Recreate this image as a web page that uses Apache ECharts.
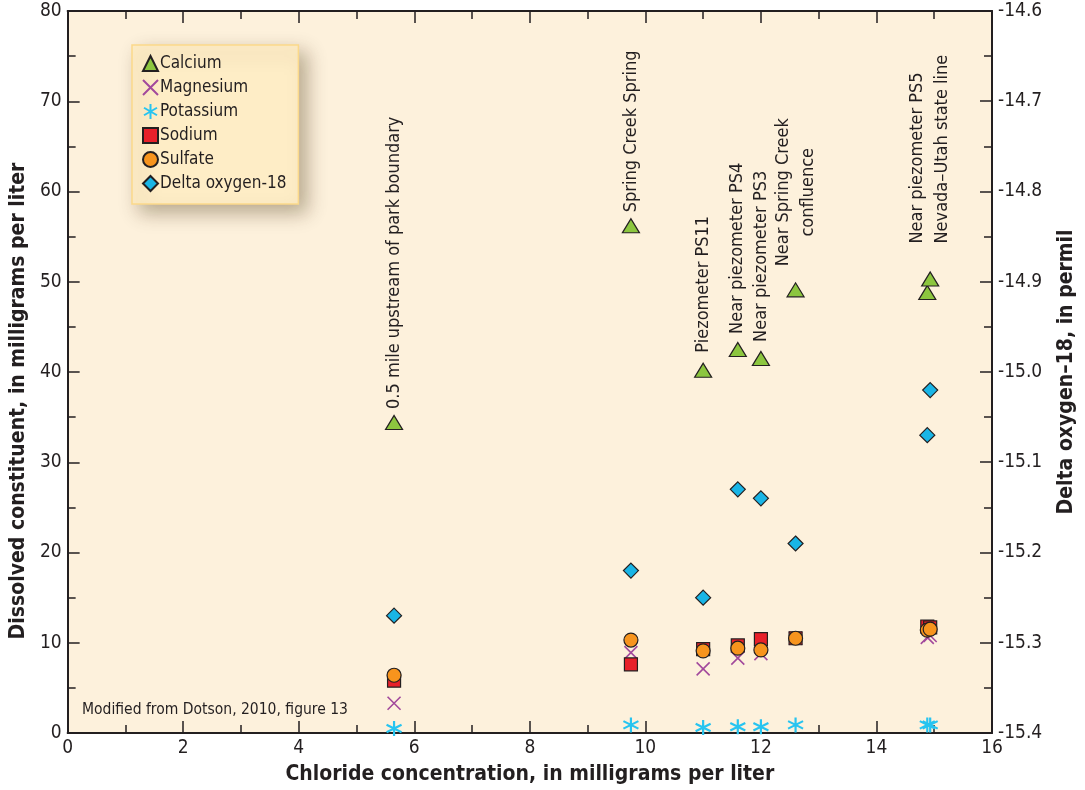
<!DOCTYPE html>
<html>
<head>
<meta charset="utf-8">
<script src="https://cdn.jsdelivr.net/npm/echarts@6/dist/echarts.min.js"></script>
<style>
  html, body { margin: 0; padding: 0; background: #fff; }
  #chart { width: 1085px; height: 790px; }
</style>
</head>
<body>
<div id="chart"></div>
<script>
// chloride concentration (mg/L) for each sampling site
const chloride = [5.65, 9.75, 11.0, 11.6, 12.0, 12.6, 14.88, 14.93];
const siteNames = [
  '0.5 mile upstream of park boundary',
  'Spring Creek Spring',
  'Piezometer PS11',
  'Near piezometer PS4',
  'Near piezometer PS3',
  'Near Spring Creek\nconfluence',
  '',
  'Near piezometer PS5\nNevada–Utah state line'
];
const calcium   = [34.4, 56.2, 40.2, 42.5, 41.5, 49.1, 48.8, 50.3];
const magnesium = [3.3, 8.9, 7.1, 8.3, 8.8, 10.5, 10.6, 10.8];
const potassium = [0.5, 0.9, 0.6, 0.7, 0.7, 0.9, 0.9, 0.9];
const sodium    = [5.8, 7.6, 9.3, 9.7, 10.4, 10.5, 11.8, 11.7];
const sulfate   = [6.4, 10.3, 9.1, 9.4, 9.2, 10.5, 11.4, 11.5];
const deltaO18  = [-15.27, -15.22, -15.25, -15.13, -15.14, -15.19, -15.07, -15.02];

const xTicks = { min: 0, max: 16, step: 2 };
const leftTicks = { min: 0, max: 80, step: 10 };
const rightTicks = { min: -15.4, max: -14.6, step: 0.1 };

const FONT = "'Liberation Sans Narrow', 'DejaVu Sans Condensed', sans-serif";
const INK = '#231F20';

const chart = echarts.init(document.getElementById('chart'));

const pairs = arr => arr.map((v, i) => [chloride[i], v]);

// label gaps above the calcium triangles (px)
const labelGap = [6, 6, 10, 8, 9, 16, 0, 28];

const calciumData = calcium.map((v, i) => {
  const item = { value: [chloride[i], v] };
  if (siteNames[i]) {
    item.label = {
      show: true,
      distance: labelGap[i],
      formatter: i === 5 ? '{a|Near Spring Creek}\n{b|confluence}' : siteNames[i]
    };
  }
  return item;
});

const crossPath = 'path://M0,0L10,10M10,0L0,10';
const starPath = 'path://M5,0L5,10M0.67,2.5L9.33,7.5M0.67,7.5L9.33,2.5';

const axisLine = { show: true, onZero: false, lineStyle: { color: INK, width: 2 } };
const tick = (len) => ({ show: true, inside: true, length: len, lineStyle: { color: INK, width: 1.5 } });
const minor = (len) => ({ show: true, splitNumber: 2, length: len, lineStyle: { color: INK, width: 1.5 } });
const tickLabel = { color: INK, fontFamily: FONT, fontSize: 19 };
const titleStyle = { color: INK, fontFamily: FONT, fontSize: 21, fontWeight: 'bold' };

const option = {
  animation: false,
  textStyle: { fontFamily: FONT },
  grid: {
    left: 67, right: 88, top: 11, bottom: 56,
    show: true, backgroundColor: '#FDF1DC', borderWidth: 0
  },
  legend: {
    orient: 'vertical',
    left: 132, top: 45,
    padding: [10, 12, 12, 10],
    itemGap: 7,
    itemWidth: 15, itemHeight: 15,
    backgroundColor: '#FEEDC6',
    borderColor: '#FBD98A',
    borderWidth: 1.5,
    shadowColor: 'rgba(60,40,0,0.35)',
    shadowBlur: 18,
    shadowOffsetX: 8,
    shadowOffsetY: 8,
    textStyle: { color: INK, fontFamily: FONT, fontSize: 17, padding: [0, 0, 0, -3] },
    data: ['Calcium', 'Magnesium', 'Potassium', 'Sodium', 'Sulfate', 'Delta oxygen-18']
  },
  graphic: [{
    type: 'text', left: 82, top: 702,
    style: { text: 'Modified from Dotson, 2010, figure 13', fill: INK, font: '15.5px ' + FONT }
  }],
  xAxis: [{
    type: 'value', position: 'bottom',
    min: xTicks.min, max: xTicks.max, interval: xTicks.step,
    name: 'Chloride concentration, in milligrams per liter',
    nameLocation: 'middle', nameGap: 31,
    nameTextStyle: titleStyle,
    axisLine: axisLine, axisTick: tick(12), minorTick: minor(8),
    axisLabel: Object.assign({ margin: 6 }, tickLabel),
    splitLine: { show: false }
  }, {
    type: 'value', position: 'top',
    min: xTicks.min, max: xTicks.max, interval: xTicks.step,
    axisLine: axisLine, axisTick: tick(12), minorTick: minor(8),
    axisLabel: { show: false }, splitLine: { show: false }
  }],
  yAxis: [{
    type: 'value', position: 'left',
    min: leftTicks.min, max: leftTicks.max, interval: leftTicks.step,
    name: 'Dissolved constituent, in milligrams per liter',
    nameLocation: 'middle', nameGap: 32,
    nameTextStyle: Object.assign({ padding: [0, 58, 0, 0] }, titleStyle),
    axisLine: axisLine, axisTick: tick(12), minorTick: minor(8),
    axisLabel: Object.assign({ margin: 6 }, tickLabel),
    splitLine: { show: false }
  }, {
    type: 'value', position: 'right',
    min: rightTicks.min, max: rightTicks.max, interval: rightTicks.step,
    name: 'Delta oxygen–18, in permil',
    nameLocation: 'middle', nameGap: 64, nameRotate: 90,
    nameTextStyle: titleStyle,
    axisLine: axisLine, axisTick: tick(12), minorTick: minor(8),
    axisLabel: Object.assign({ margin: 6, formatter: v => v.toFixed(1) }, tickLabel),
    splitLine: { show: false }
  }],
  series: [{
    name: 'Calcium', type: 'scatter',
    symbol: 'triangle', symbolSize: [17, 14],
    itemStyle: { color: '#8CC63F', borderColor: INK, borderWidth: 1.2, opacity: 1 },
    label: {
      show: false, position: 'top', rotate: 90, align: 'left', verticalAlign: 'middle',
      color: INK, fontFamily: FONT, fontSize: 18, lineHeight: 25,
      rich: {
        a: { color: INK, fontFamily: FONT, fontSize: 18, lineHeight: 25 },
        b: { color: INK, fontFamily: FONT, fontSize: 18, lineHeight: 25, align: 'center' }
      }
    },
    data: calciumData, z: 3
  }, {
    name: 'Magnesium', type: 'scatter',
    symbol: crossPath, symbolSize: 13,
    itemStyle: { color: 'rgba(0,0,0,0)', borderColor: '#A2499C', borderWidth: 1.6, opacity: 1 },
    data: pairs(magnesium), z: 3
  }, {
    name: 'Potassium', type: 'scatter',
    symbol: starPath, symbolSize: 15,
    itemStyle: { color: 'rgba(0,0,0,0)', borderColor: '#27C4F0', borderWidth: 2.2, opacity: 1 },
    data: pairs(potassium), z: 3
  }, {
    name: 'Sodium', type: 'scatter',
    symbol: 'rect', symbolSize: 13,
    itemStyle: { color: '#E8202A', borderColor: INK, borderWidth: 1.2, opacity: 1 },
    data: pairs(sodium), z: 3
  }, {
    name: 'Sulfate', type: 'scatter',
    symbol: 'circle', symbolSize: 14,
    itemStyle: { color: '#F7941D', borderColor: INK, borderWidth: 1.2, opacity: 1 },
    data: pairs(sulfate), z: 3
  }, {
    name: 'Delta oxygen-18', type: 'scatter', yAxisIndex: 1,
    symbol: 'diamond', symbolSize: [15, 15],
    itemStyle: { color: '#19B5E6', borderColor: INK, borderWidth: 1.2, opacity: 1 },
    data: pairs(deltaO18), z: 3
  }]
};

chart.setOption(option);
window.addEventListener('resize', () => chart.resize());
</script>
</body>
</html>
